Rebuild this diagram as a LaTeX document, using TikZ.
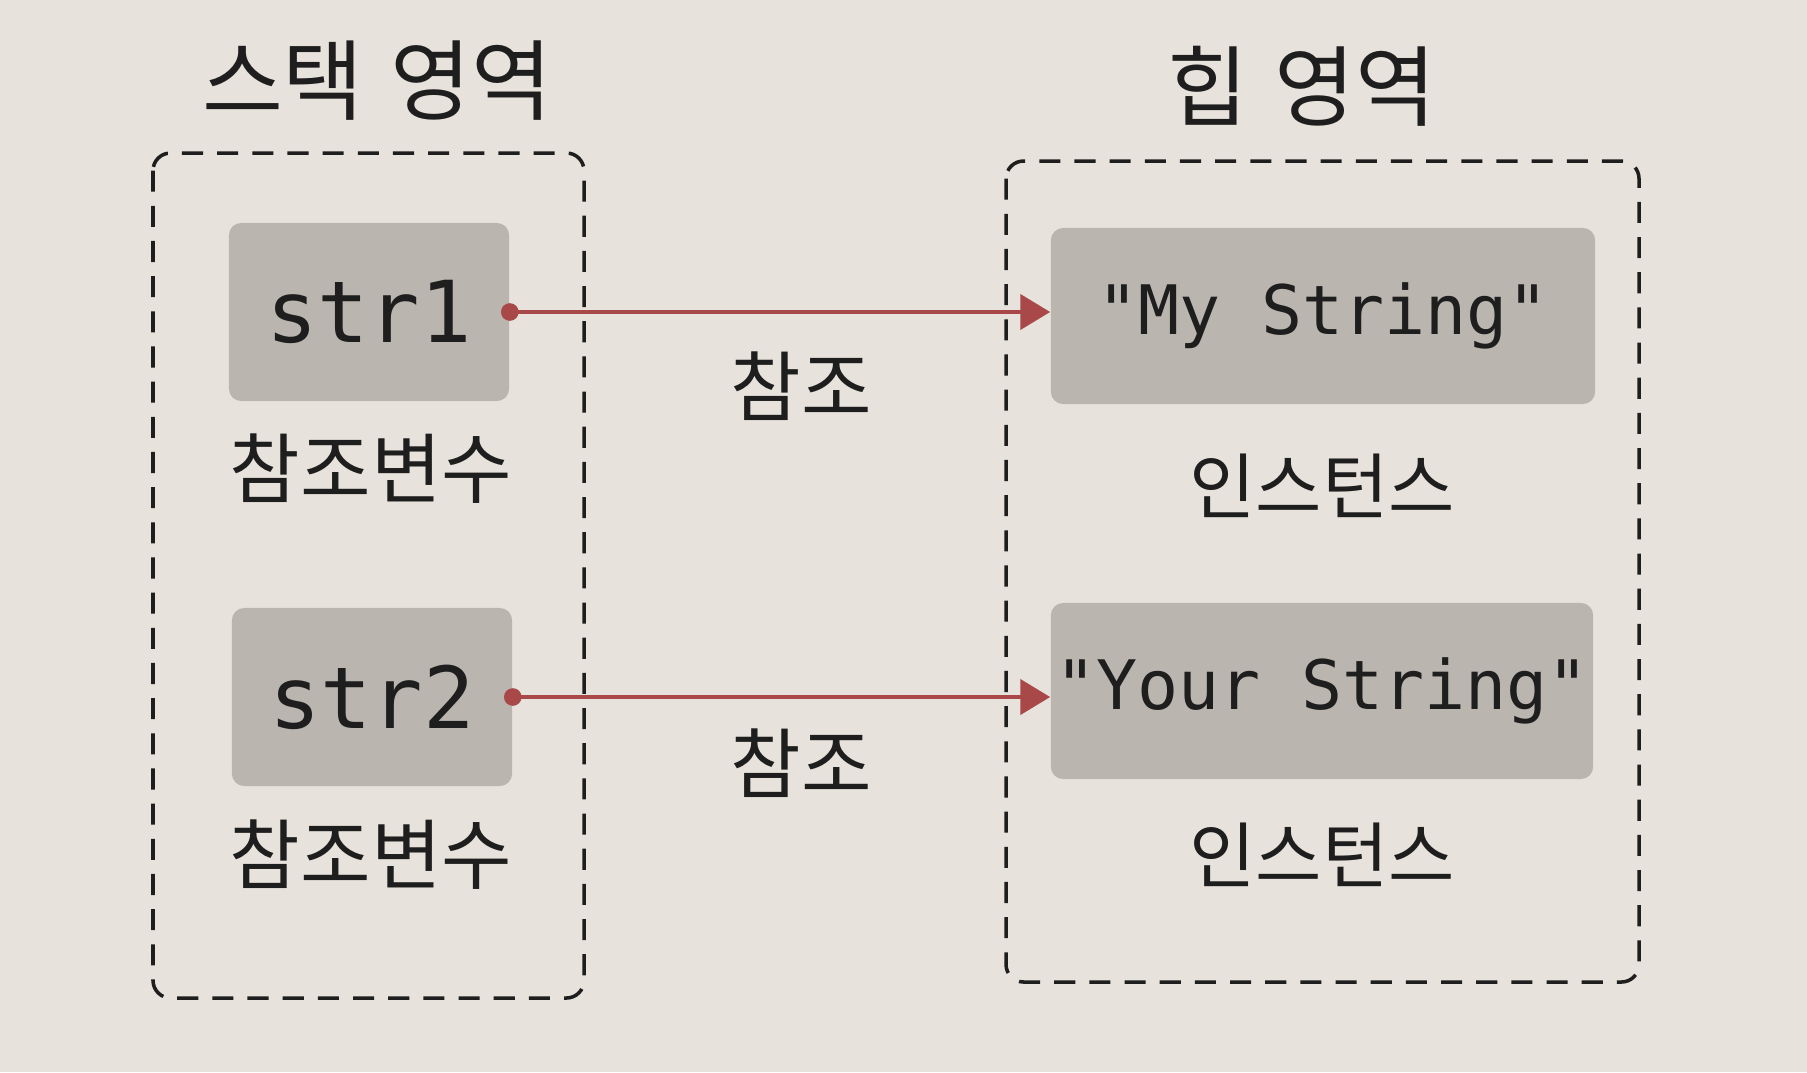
\documentclass[tikz,border=0pt]{standalone}
\usepackage{fontspec}
\setmainfont{Noto Sans CJK KR}
\newfontfamily\monofont{DejaVu Sans Mono}
\usetikzlibrary{arrows.meta, positioning}
\definecolor{paper}{RGB}{231,226,219}
\definecolor{cellgray}{RGB}{186,181,175}
\definecolor{inkblack}{RGB}{30,30,30}
\definecolor{refred}{RGB}{168,72,72}

\begin{document}
\begin{tikzpicture}[
    x=0.01cm, y=-0.01cm,
    area/.style={
        draw=inkblack, line width=1pt, dash pattern=on 6pt off 4pt,
        rounded corners=5pt
    },
    cell/.style={
        rectangle, rounded corners=3.5pt, fill=cellgray,
        minimum height=1.78cm, inner sep=0pt, text=inkblack
    },
    title/.style={font=\fontsize{25}{29}\selectfont, text=inkblack},
    caption/.style={font=\fontsize{21.8}{26}\selectfont, text=inkblack},
    ref/.style={{Circle[length=5pt]}-{Triangle[length=8.5pt, width=10pt]},
        refred, line width=1.1pt, shorten <=-2.5pt}
]

% Background
\fill[paper] (0,0) rectangle (1807,1072);
\useasboundingbox (0,0) rectangle (1807,1072);

% Stack and heap areas
\draw[area] (153,153) rectangle (584,998);
\draw[area] (1006,161) rectangle (1639,982);
\node[title] (stack) at (377,81) {스택\hspace{0.3em}영역};
\node[title] (heap)  at (1302,86) {힙\hspace{0.3em}영역};

% Reference variables
\node[cell, minimum width=2.8cm, font=\monofont\fontsize{24.3}{28}\selectfont] (str1) at (369,312) {str1};
\node[cell, minimum width=2.8cm, font=\monofont\fontsize{24.3}{28}\selectfont] (str2) at (372,697) {str2};
\node[caption] (var1) at (371,469) {참조변수};
\node[caption] (var2) at (371,855) {참조변수};

% Instances
\node[cell, minimum width=5.44cm, minimum height=1.76cm, font=\monofont\fontsize{19.4}{23}\selectfont] (my)   at (1323,316) {"My String"};
\node[cell, minimum width=5.42cm, minimum height=1.76cm, font=\monofont\fontsize{19.4}{23}\selectfont] (your) at (1322,691) {"Your String"};
\node[caption, font=\fontsize{20.5}{25}\selectfont] (inst1) at (1322,486) {인스턴스};
\node[caption, font=\fontsize{20.5}{25}\selectfont] (inst2) at (1322,855) {인스턴스};

% References
\draw[ref] (str1.east) -- (str1.east -| my.west);
\draw[ref] (str2.east) -- (str2.east -| your.west);
\node[caption] (ref1) at (801,386) {참조};
\node[caption] (ref2) at (801,763) {참조};

\end{tikzpicture}
\end{document}
